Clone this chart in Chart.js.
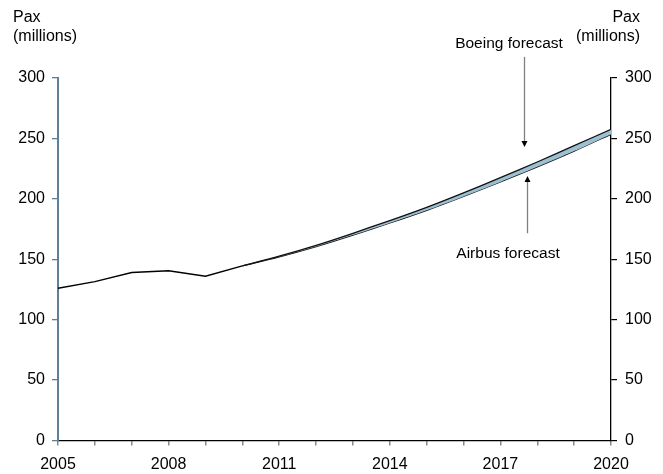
<!DOCTYPE html>
<html>
<head>
<meta charset="utf-8">
<script src="https://cdn.jsdelivr.net/npm/chart.js@4/dist/chart.umd.min.js"></script>
<style>
    html, body { margin: 0; padding: 0; background: #fff; }
    #wrap { width: 663px; height: 474px; position: relative; }
</style>
</head>
<body>
<div id="wrap"><canvas id="chart" width="663" height="474"></canvas></div>
<script>
// data
const histYears = [2005, 2006, 2007, 2008, 2009, 2010];
const histPax = [126, 131.5, 139, 140.5, 136, 144.5];

const forecastYears = [2010, 2011, 2012, 2013, 2014, 2015, 2016, 2017, 2018, 2019, 2020];
const boeingPax = [144.5, 152.5, 161.5, 171.5, 182, 193, 205, 217.5, 230.5, 244, 257.5];
const airbusPax = [144.5, 152, 160.5, 170, 180, 190.5, 202, 214, 226.5, 239.5, 253.5];

const yTicks = [0, 50, 100, 150, 200, 250, 300];
const xLabelYears = [2005, 2008, 2011, 2014, 2017, 2020];

const FONT = '"Liberation Sans", Arial, sans-serif';

function toPoints(xs, ys) {
    return xs.map((x, i) => ({ x: x, y: ys[i] }));
}

// annotation texts and arrows
const notesPlugin = {
    id: 'notes',
    afterDraw(chart) {
        const ctx = chart.ctx;
        const xs = chart.scales.x;
        const ys = chart.scales.y;
        ctx.save();
        ctx.fillStyle = '#000';
        ctx.font = '16px ' + FONT;
        ctx.textBaseline = 'middle';

        ctx.textAlign = 'left';
        ctx.fillText('Pax', 13, 18);
        ctx.fillText('(millions)', 13, 37);
        ctx.textAlign = 'right';
        ctx.fillText('Pax', 640, 18);
        ctx.fillText('(millions)', 640, 37);

        ctx.font = '15.5px ' + FONT;
        ctx.textAlign = 'center';
        ctx.fillText('Boeing forecast', 509, 44);
        ctx.fillText('Airbus forecast', 508, 254);

        function arrow(year, fromVal, toVal) {
            const x = Math.round(xs.getPixelForValue(year)) + 0.5;
            const y1 = ys.getPixelForValue(fromVal);
            const y2 = ys.getPixelForValue(toVal);
            const dir = y2 > y1 ? 1 : -1;
            ctx.strokeStyle = '#808080';
            ctx.lineWidth = 1.3;
            ctx.beginPath();
            ctx.moveTo(x, y1);
            ctx.lineTo(x, y2 - dir * 4);
            ctx.stroke();
            ctx.fillStyle = '#000';
            ctx.beginPath();
            ctx.moveTo(x, y2);
            ctx.lineTo(x - 3, y2 - dir * 6);
            ctx.lineTo(x + 3, y2 - dir * 6);
            ctx.closePath();
            ctx.fill();
        }
        arrow(2017.64, 317.5, 243);
        arrow(2017.71, 171.5, 219);
        ctx.restore();
    }
};

new Chart(document.getElementById('chart').getContext('2d'), {
    type: 'line',
    data: {
        datasets: [
            {
                label: 'Boeing forecast',
                data: toPoints(forecastYears, boeingPax),
                borderColor: '#111',
                borderWidth: 1.3,
                backgroundColor: '#9cc0d2',
                fill: '+1',
                pointRadius: 0,
                tension: 0.3
            },
            {
                label: 'Airbus forecast',
                data: toPoints(forecastYears, airbusPax),
                borderColor: '#111',
                borderWidth: 1.3,
                fill: false,
                pointRadius: 0,
                tension: 0.3
            },
            {
                label: 'Actual',
                data: toPoints(histYears, histPax),
                borderColor: '#000',
                borderWidth: 1.4,
                fill: false,
                pointRadius: 0,
                tension: 0
            }
        ]
    },
    options: {
        responsive: false,
        animation: false,
        layout: { padding: { left: 0, right: 0, top: 78, bottom: 0 } },
        plugins: {
            legend: { display: false },
            tooltip: { enabled: false },
            title: { display: false }
        },
        scales: {
            x: {
                type: 'linear',
                min: 2005,
                max: 2020,
                afterFit(axis) { axis.height = 33.5; },
                afterBuildTicks(axis) {
                    const t = [];
                    for (let y = 2005; y <= 2020; y++) t.push({ value: y });
                    axis.ticks = t;
                },
                grid: {
                    drawOnChartArea: false,
                    drawTicks: true,
                    tickLength: 5,
                    color: '#888',
                    lineWidth: 1.5
                },
                border: { color: '#000', width: 1.3 },
                ticks: {
                    autoSkip: false,
                    maxRotation: 0,
                    padding: 9,
                    color: '#000',
                    font: { family: FONT, size: 16 },
                    callback: (v) => xLabelYears.includes(v) ? String(v) : ''
                }
            },
            y: {
                position: 'left',
                min: 0,
                max: 300,
                afterFit(axis) { axis.width = 58; },
                afterBuildTicks(axis) { axis.ticks = yTicks.map(v => ({ value: v })); },
                grid: {
                    drawOnChartArea: false,
                    drawTicks: true,
                    tickLength: 6,
                    color: '#5f7f95',
                    lineWidth: 1.3
                },
                border: { color: '#5f7f95', width: 2 },
                ticks: {
                    padding: 7,
                    color: '#000',
                    font: { family: FONT, size: 16 }
                }
            },
            y2: {
                position: 'right',
                min: 0,
                max: 300,
                afterFit(axis) { axis.width = 52; },
                afterBuildTicks(axis) { axis.ticks = yTicks.map(v => ({ value: v })); },
                grid: {
                    drawOnChartArea: false,
                    drawTicks: true,
                    tickLength: 6,
                    color: '#000',
                    lineWidth: 1.2
                },
                border: { color: '#000', width: 1.3 },
                ticks: {
                    padding: 8,
                    color: '#000',
                    font: { family: FONT, size: 16 }
                }
            }
        }
    },
    plugins: [notesPlugin]
});
</script>
</body>
</html>
